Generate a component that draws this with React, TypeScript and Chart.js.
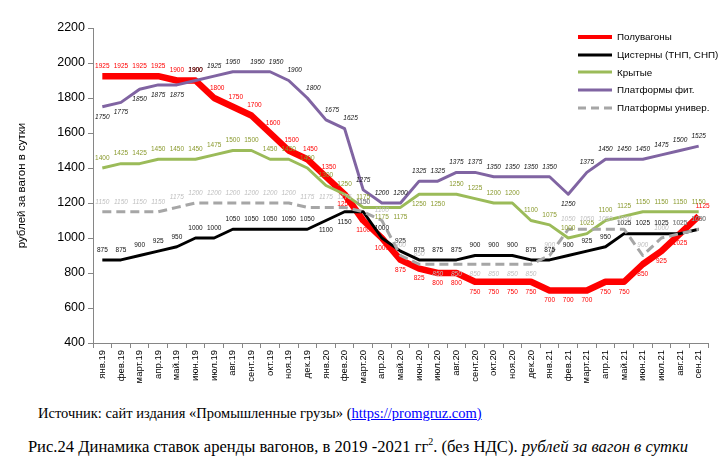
import React, { useEffect, useRef } from "react";
import { Chart, registerables } from "chart.js";

Chart.register(...registerables);

const months = [
  "янв.19", "фев.19", "март.19", "апр.19", "май.19", "июн.19", "июл.19", "авг.19", "сент.19", "окт.19", "ноя.19", "дек.19",
  "янв.20", "фев.20", "март.20", "апр.20", "май.20", "июн.20", "июл.20", "авг.20", "сент.20", "окт.20", "ноя.20", "дек.20",
  "янв.21", "фев.21", "март.21", "апр.21", "май.21", "июн.21", "июл.21", "авг.21", "сен.21",
];

const poluvagony = [
  1925, 1925, 1925, 1925, 1900, 1900, 1800, 1750, 1700, 1600, 1500, 1450,
  1350, 1250, 1100, 1000, 875, 825, 800, 800, 750, 750, 750, 750,
  700, 700, 700, 750, 750, 850, 925, 1025, 1125,
];

const cisterny = [
  875, 875, 900, 925, 950, 1000, 1000, 1050, 1050, 1050, 1050, 1050,
  1100, 1150, 1150, 1000, 925, 875, 875, 875, 900, 900, 900, 875,
  875, 900, 925, 950, 1025, 1025, 1025, 1025, 1050,
];

const krytye = [
  1400, 1425, 1425, 1450, 1450, 1450, 1475, 1500, 1500, 1450, 1450, 1400,
  1300, 1250, 1175, 1175, 1175, 1250, 1250, 1250, 1225, 1200, 1200, 1100,
  1075, 1000, 1025, 1100, 1125, 1150, 1150, 1150, 1150,
];

const platformyFit = [
  1750, 1775, 1850, 1875, 1875, 1900, 1925, 1950, 1950, 1950, 1900, 1800,
  1675, 1625, 1275, 1200, 1200, 1325, 1325, 1375, 1375, 1350, 1350, 1350,
  1350, 1250, 1375, 1450, 1450, 1450, 1475, 1500, 1525,
];

const platformyUniv = [
  1150, 1150, 1150, 1150, 1175, 1200, 1200, 1200, 1200, 1200, 1200, 1175,
  1175, 1175, 1150, 1100, 900, 850, 850, 850, 850, 850, 850, 850,
  900, 1050, 1050, 1050, 1050, 900, 1000, 1025, 1050,
];

const seriesNames = ["Полувагоны", "Цистерны (ТНП, СНП)", "Крытые", "Платформы фит.", "Платформы универ."];
const seriesColors = ["#FF0000", "#000000", "#9BBB59", "#8064A2", "#A6A6A6"];

const yMin = 400;
const yMax = 2200;
const yStep = 200;
const yTitle = "рублей за вагон в сутки";

type LabelStyle = {
  font: string;
  color: string;
  below: (i: number) => boolean;
  dx?: (i: number) => number;
};

const labelStyles: LabelStyle[] = [
  { font: "6.5px 'Liberation Sans'", color: "#FF0000", below: (i) => i >= 13 && i <= 31, dx: (i) => (i === 32 ? 4 : i >= 6 && i <= 12 ? 3 : 0) },
  { font: "6.5px 'Liberation Sans'", color: "#111111", below: (i) => i === 12 || i === 13 },
  { font: "6.5px 'Liberation Sans'", color: "#8A9A2E", below: (i) => i >= 15 && i <= 18 },
  { font: "italic 6.5px 'Liberation Sans'", color: "#111111", below: (i) => i <= 4 || i === 25, dx: (i) => (i >= 8 && i <= 13 ? 6 : 0) },
  { font: "italic 6.5px 'Liberation Sans'", color: "#BFBFBF", below: (i) => i >= 18 && i <= 23 },
];

const pointLabelPlugin = {
  id: "pointLabels",
  afterDatasetsDraw(chart: any) {
    const ctx = chart.ctx;
    chart.data.datasets.forEach((ds: any, di: number) => {
      const meta = chart.getDatasetMeta(di);
      const st = labelStyles[di];
      ctx.save();
      ctx.font = st.font;
      ctx.fillStyle = st.color;
      ctx.textAlign = "center";
      ctx.textBaseline = "middle";
      meta.data.forEach((pt: any, i: number) => {
        const below = st.below(i);
        const dx = st.dx ? st.dx(i) : 0;
        const dy = below ? 10 : -10;
        ctx.fillText(String(ds.data[i]), pt.x + dx, pt.y + dy);
      });
      ctx.restore();
    });
  },
};

export default function App() {
  const canvasRef = useRef<HTMLCanvasElement | null>(null);

  useEffect(() => {
    if (!canvasRef.current) return;
    const allSeries = [poluvagony, cisterny, krytye, platformyFit, platformyUniv];
    const widths = [6.5, 3, 3, 3, 3];
    const chart = new Chart(canvasRef.current, {
      type: "line",
      data: {
        labels: months,
        datasets: allSeries.map((d, i) => ({
          label: seriesNames[i],
          data: d,
          borderColor: seriesColors[i],
          backgroundColor: seriesColors[i],
          borderWidth: widths[i],
          borderDash: i === 4 ? [9, 5] : [],
          pointRadius: 0,
          tension: 0,
          fill: false,
          order: 5 - i,
          borderJoinStyle: "round" as const,
        })),
      },
      options: {
        responsive: false,
        animation: false,
        layout: { padding: { left: 0, right: 20, top: 28, bottom: 0 } },
        plugins: {
          legend: { display: false },
          tooltip: { enabled: false },
          title: { display: false },
        },
        scales: {
          x: {
            type: "category",
            offset: true,
            afterFit: (scale: any) => {
              scale.height = 52;
            },
            grid: {
              drawOnChartArea: false,
              drawTicks: true,
              tickLength: 5,
              color: "#868686",
              offset: true,
            },
            border: { color: "#868686", width: 1 },
            ticks: {
              autoSkip: false,
              maxRotation: 90,
              minRotation: 90,
              padding: 2,
              color: "#000",
              font: { family: "'Liberation Sans'", size: 9.5 },
            },
          },
          y: {
            min: yMin,
            max: yMax,
            afterFit: (scale: any) => {
              scale.width = 93;
            },
            grid: {
              drawOnChartArea: false,
              drawTicks: true,
              tickLength: 5,
              color: "#868686",
            },
            border: { color: "#868686", width: 1 },
            ticks: {
              stepSize: yStep,
              padding: 3,
              color: "#000",
              font: { family: "'Liberation Sans'", size: 12.5 },
              callback: (v: any) => String(v),
            },
            title: {
              display: true,
              text: yTitle,
              color: "#000",
              font: { family: "'Liberation Sans'", size: 11.5 },
              padding: { top: 15, bottom: 0 },
            },
          },
        },
      },
      plugins: [pointLabelPlugin],
    } as any);
    return () => chart.destroy();
  }, []);

  const legendRow = (i: number) => (
    <div key={i} style={{ display: "flex", alignItems: "center", height: 17.7 }}>
      <svg width={36} height={8} style={{ display: "block" }}>
        <line
          x1={1}
          y1={4}
          x2={35}
          y2={4}
          stroke={seriesColors[i]}
          strokeWidth={i === 0 ? 4 : 3}
          strokeDasharray={i === 4 ? "8 5" : undefined}
        />
      </svg>
      <span style={{ marginLeft: 4, fontFamily: "'Liberation Sans'", fontSize: 9.8, color: "#000", whiteSpace: "nowrap" }}>
        {seriesNames[i]}
      </span>
    </div>
  );

  return (
    <div style={{ position: "absolute", left: 0, top: 0, width: 728, height: 464, background: "#fff", overflow: "hidden" }}>
      <canvas ref={canvasRef} width={728} height={395} style={{ position: "absolute", left: 0, top: 0, width: 728, height: 395 }} />
      <div style={{ position: "absolute", left: 577, top: 28 }}>
        {[0, 1, 2, 3, 4].map(legendRow)}
      </div>
      <div
        style={{
          position: "absolute",
          left: 38,
          top: 405,
          fontFamily: "'Liberation Serif', serif",
          fontSize: 14.5,
          lineHeight: "16px",
          whiteSpace: "nowrap",
          color: "#000",
        }}
      >
        Источник: сайт издания «Промышленные грузы» (
        <span style={{ color: "#0000FF", textDecoration: "underline" }}>https://promgruz.com)</span>
      </div>
      <div
        style={{
          position: "absolute",
          left: 0,
          width: 716,
          top: 438,
          textAlign: "center",
          fontFamily: "'Liberation Serif', serif",
          fontSize: 16.6,
          lineHeight: "18px",
          whiteSpace: "nowrap",
          color: "#000",
        }}
      >
        Рис.24 Динамика ставок аренды вагонов, в 2019 -2021 гг
        <sup style={{ fontSize: 10, lineHeight: 0, verticalAlign: "super" }}>2</sup>. (без НДС).{" "}
        <i>рублей за вагон в сутки</i>
      </div>
    </div>
  );
}
